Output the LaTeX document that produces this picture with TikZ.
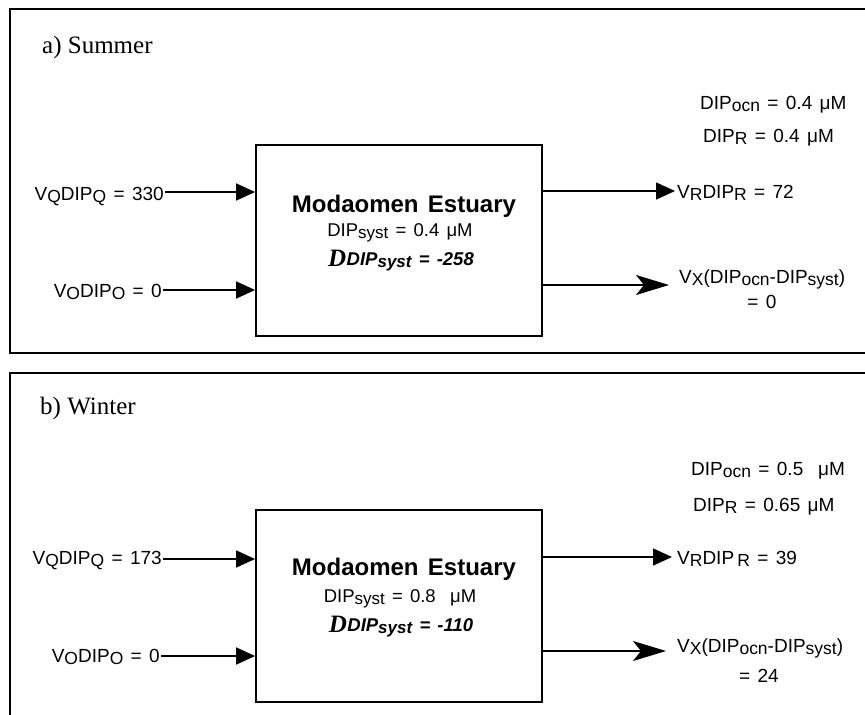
\documentclass[tikz,border=0pt]{standalone}
\usepackage{fontspec}
\usepackage{graphicx}
\setmainfont[WordSpace=1.4]{Liberation Sans}
\newfontfamily\serifrm{Liberation Serif}
\usetikzlibrary{arrows.meta}

% lowered, slightly reduced index text
\newcommand\lo[1]{\raisebox{-2pt}{\scalebox{0.92}{#1}}}
% big serif delta-like letter in front of DIP
\newcommand\bigD{{\serifrm\bfseries\itshape\fontsize{25}{25}\selectfont\raisebox{-1pt}{D}}\kern0.5pt}

\tikzset{
  frame/.style={line width=1.8pt},
  estbox/.style={draw, line width=1.8pt, minimum width=286pt, inner sep=0pt},
  flow/.style={line width=1.6pt, -{Triangle[length=19pt,width=17pt]}},
  exch/.style={line width=1.6pt, -{Stealth[length=33pt,width=20pt,inset=8pt]}},
  lbl/.style={inner sep=0pt, font=\fontsize{19}{21}\selectfont},
  ttl/.style={inner sep=0pt, font=\serifrm\fontsize{25}{27}\selectfont},
  estname/.style={inner sep=0pt, font=\bfseries\fontsize{24}{26}\selectfont},
  conc/.style={inner sep=0pt, font=\fontsize{18.5}{20}\selectfont},
  budget/.style={inner sep=0pt, font=\bfseries\itshape\fontsize{18.5}{20}\selectfont}
}

\begin{document}
\begin{tikzpicture}[x=1pt,y=-1pt]
\useasboundingbox (0,0) rectangle (865,715);

% ---------------- a) Summer ----------------
\draw[frame] (872,9) -| (10,353) -- (872,353);
\node[ttl, anchor=base west] (ta) at (42,53) {a) Summer};

\node[estbox, minimum height=191pt] (boxA) at (399,240.5) {};
\node[estname, anchor=base] (nameA) at (404,212) {Modaomen Estuary};
\node[conc, anchor=base] (systA) at (400,236) {DIP\lo{syst} = 0.4 μM};
\node[budget, anchor=base] (dA) at (401,265) {\bigD DIP\lo{syst} = -258};

\node[lbl, anchor=base east] (qA) at (164,200) {V\lo{Q}DIP\lo{Q} = 330};
\coordinate (qAs) at (165,192);
\draw[flow] (qAs) -- (qAs -| boxA.west);

\node[lbl, anchor=base east] (oA) at (162,297) {V\lo{O}DIP\lo{O} = 0};
\coordinate (oAs) at (163,290);
\draw[flow] (oAs) -- (oAs -| boxA.west);

\node[lbl, anchor=base west] (ocnA) at (700,109) {DIP\lo{ocn} = 0.4 μM};
\node[lbl, anchor=base west] (rcA) at (703,142) {DIP\lo{R} = 0.4 μM};

\coordinate (rAt) at (675,191);
\draw[flow] (rAt -| boxA.east) -- (rAt);
\node[lbl, anchor=base west] (rA) at (677,198) {V\lo{R}DIP\lo{R} = 72};

\coordinate (xAt) at (669,285);
\draw[exch] (xAt -| boxA.east) -- (xAt);
\node[lbl, anchor=base west] (xA) at (679,283) {V\lo{X}(DIP\lo{ocn}-DIP\lo{syst})};
\node[lbl, anchor=base] (xAv) at (762,308) {= 0};

% ---------------- b) Winter ----------------
\draw[frame] (872,373) -| (10,722);
\node[ttl, anchor=base west] (tb) at (40,414) {b) Winter};

\node[estbox, minimum height=192pt] (boxB) at (399,606) {};
\node[estname, anchor=base] (nameB) at (404,575) {Modaomen Estuary};
\node[conc, anchor=base] (systB) at (400,602) {DIP\lo{syst} = 0.8\ \ μM};
\node[budget, anchor=base] (dB) at (401,631) {\bigD DIP\lo{syst} = -110};

\node[lbl, anchor=base east] (qB) at (162,564) {V\lo{Q}DIP\lo{Q} = 173};
\coordinate (qBs) at (163,559);
\draw[flow] (qBs) -- (qBs -| boxB.west);

\node[lbl, anchor=base east] (oB) at (160,662) {V\lo{O}DIP\lo{O} = 0};
\coordinate (oBs) at (161,656);
\draw[flow] (oBs) -- (oBs -| boxB.west);

\node[lbl, anchor=base west] (ocnB) at (691,475) {DIP\lo{ocn} = 0.5\ \ μM};
\node[lbl, anchor=base west] (rcB) at (693,511) {DIP\lo{R} = 0.65 μM};

\coordinate (rBt) at (672,557);
\draw[flow] (rBt -| boxB.east) -- (rBt);
\node[lbl, anchor=base west] (rB) at (677,564) {V\lo{R}DIP\,\lo{R} = 39};

\coordinate (xBt) at (666,651);
\draw[exch] (xBt -| boxB.east) -- (xBt);
\node[lbl, anchor=base west] (xB) at (677,652) {V\lo{X}(DIP\lo{ocn}-DIP\lo{syst})};
\node[lbl, anchor=base] (xBv) at (759,682) {= 24};
\end{tikzpicture}
\end{document}
